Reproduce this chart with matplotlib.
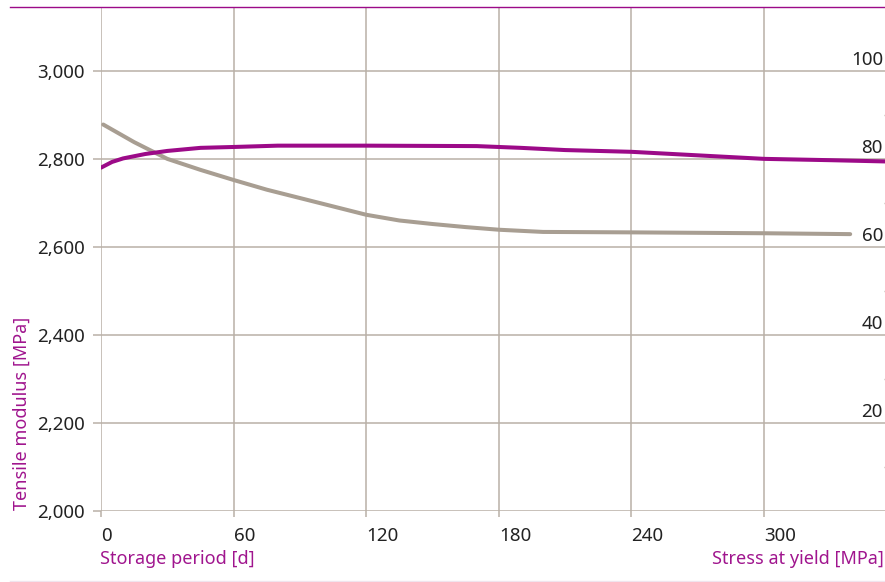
import matplotlib.pyplot as plt
from matplotlib.lines import Line2D

# values
days_stress = [0, 5, 10, 20, 30, 45, 60, 80, 120, 170, 190, 210, 240, 270, 300, 330, 356]
modulus_purple = [2780, 2793, 2801, 2811, 2818, 2825, 2827, 2830, 2830, 2829, 2825, 2820,
                  2816, 2808, 2800, 2797, 2794]

days_grey = [1, 15, 30, 45, 60, 75, 90, 105, 120, 135, 150, 165, 180, 200, 240, 300, 339]
modulus_grey = [2878, 2838, 2800, 2775, 2752, 2730, 2711, 2692, 2673, 2660, 2652, 2645,
                2639, 2634, 2633, 2631, 2629]

x_ticks = [0, 60, 120, 180, 240, 300]
y_ticks = [2000, 2200, 2400, 2600, 2800, 3000]
right_ticks = [20, 40, 60, 80, 100]
right_minor = [10, 30, 50, 70, 90]

PURPLE = '#9c0a88'
PURPLE_TEXT = '#a0158e'
GREY_LINE = '#a89e92'
GRID = '#b9b0a7'
TEXT = '#222222'

plt.rcParams['font.family'] = ['Noto Sans', 'DejaVu Sans']

W, H = 885, 582
fig = plt.figure(figsize=(W / 100, H / 100), dpi=100)

left_px, right_px, top_px, bottom_px = 101, 888, 7, 511
ax = fig.add_axes([left_px / W, (H - bottom_px) / H,
                   (right_px - left_px) / W, (bottom_px - top_px) / H])

ax.set_xlim(0, (right_px - left_px) / 2.21)
ax.set_ylim(2000, 3145)

ax.plot(days_grey, modulus_grey, color=GREY_LINE, linewidth=2.9,
        solid_capstyle='round', solid_joinstyle='round', zorder=3)
ax.plot(days_stress, modulus_purple, color=PURPLE, linewidth=2.9,
        solid_capstyle='round', solid_joinstyle='round', zorder=4)

ax.set_xticks(x_ticks)
ax.set_yticks(y_ticks)
ax.set_xticklabels([str(v) for v in x_ticks])
ax.set_yticklabels([f'{v:,}' for v in y_ticks])
for tl in ax.get_xticklabels():
    tl.set_ha('left')

ax.grid(True, color=GRID, linewidth=1.1, zorder=1)
ax.set_axisbelow(True)
for s in ax.spines.values():
    s.set_visible(False)
ax.tick_params(axis='x', length=4.5, width=1.1, color=GRID, pad=7,
               labelsize=13.5, labelcolor=TEXT)
ax.tick_params(axis='y', length=6, width=1.1, color=GRID, pad=5.5,
               labelsize=13.5, labelcolor=TEXT)

# secondary scale (stress at yield), labels sit just above the grid lines
ax2 = ax.twinx()
ax2.set_ylim(0, (3145 - 2000) / 10)
for s in ax2.spines.values():
    s.set_visible(False)
ax2.set_yticks([])
ax2.set_yticks(right_minor, minor=True)
ax2.tick_params(axis='y', which='minor', direction='in', length=3, width=1,
                color=GRID, labelright=False)
for v in right_ticks:
    ax2.annotate(str(v), xy=(883 / W, v), xycoords=('figure fraction', 'data'),
                 xytext=(0, 4.5), textcoords='offset points',
                 ha='right', va='baseline', fontsize=13.5, color=TEXT)

# axis titles
fig.text(100 / W, 1 - 559 / H, 'Storage period [d]', ha='left', va='center',
         fontsize=13, color=PURPLE_TEXT)
fig.text(884 / W, 1 - 559 / H, 'Stress at yield [MPa]', ha='right', va='center',
         fontsize=13, color=PURPLE_TEXT)
fig.text(22 / W, 1 - 510 / H, 'Tensile modulus [MPa]', rotation=90,
         ha='center', va='bottom', fontsize=13, color=PURPLE_TEXT)

# frame rules top and bottom
fig.add_artist(Line2D([10 / W, 1], [1 - 7 / H, 1 - 7 / H], color=PURPLE,
                      linewidth=1.0, transform=fig.transFigure))
fig.add_artist(Line2D([10 / W, 1], [1 - 581 / H, 1 - 581 / H], color='#f0e4ee',
                      linewidth=1.0, transform=fig.transFigure))

fig.savefig('out.png', dpi=100)
